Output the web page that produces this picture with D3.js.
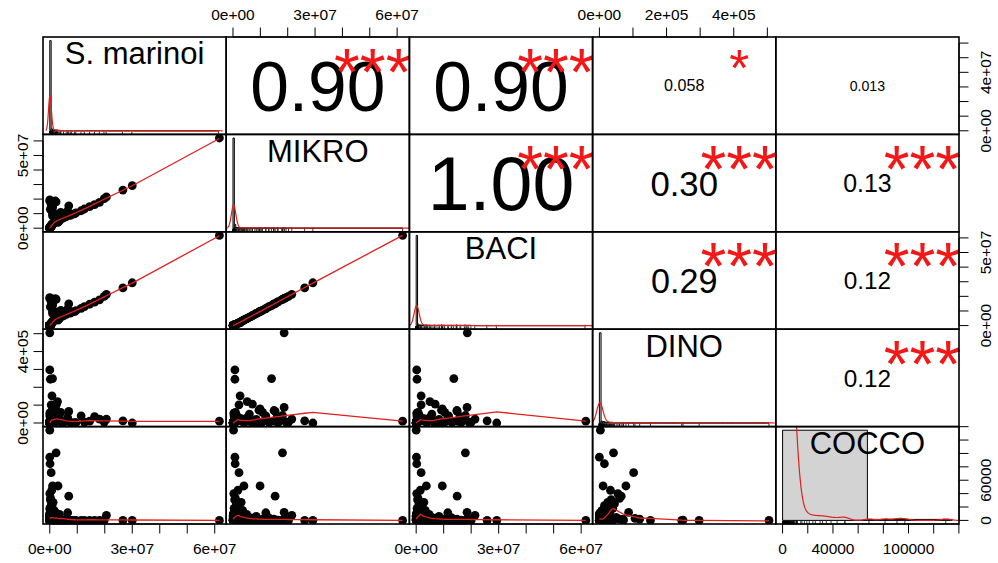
<!DOCTYPE html>
<html><head><meta charset="utf-8">
<script src="https://cdn.jsdelivr.net/npm/d3@7"></script>
<style>html,body{margin:0;padding:0;background:#fff;} svg{display:block;font-family:"Liberation Sans",Arial,Helvetica,sans-serif;}</style>
</head><body><svg id="chart" width="998" height="563"></svg>
<script>
// ---------------- data ----------------
const variables = ["S. marinoi", "MIKRO", "BACI", "DINO", "COCCO"];
const smarinoi = [6.17e7,2.66e7,3.00e7,0,0,0.02e7,0.10e7,0.08e7,0.23e7,0,0.01e7,0.05e7,0.30e7,0.10e7,0.69e7,0.65e7,2.06e7,0.40e7,0.20e7,1.14e7,1.63e7,1.81e7,1.26e7,1.45e7,0.90e7,0.25e7,0,0.05e7,0.02e7,0.10e7,1.98e7,0.01e7,0.02e7,0,0.03e7,0.05e7,0,0.08e7,0.12e7,0.02e7,0.15e7,0.20e7,0.25e7,0.30e7,0.35e7,0.40e7,0.50e7,0.60e7,0.75e7,0,0,0.01e7,0,0.02e7,0.01e7,0.04e7,0.06e7,0,0.03e7,0.07e7,0.09e7,0.11e7,0,0.01e7,0,0.02e7,0.14e7,0.18e7,0.01e7,0.03e7,0,0.01e7,0.80e7,0.95e7,0.22e7,0.10e7,0.28e7,0,
  0,0,0.01e7,0,0.02e7,0,0.01e7,0,0,0.03e7,0,0.01e7,0,0.02e7,0,0,0.01e7,0,0.04e7,0,0.01e7,0,0,0.02e7,0,0.01e7,0,0,0.03e7,0,0,0.01e7,0,0,0.02e7,0,0.01e7,0,0,0.01e7,0,0.02e7];
const mikro = [6.20e7,2.62e7,2.92e7,1.87e7,0.07e7,0.07e7,1.41e7,0.26e7,1.81e7,0.07e7,0.08e7,0.22e7,0.40e7,0.99e7,1.54e7,1.20e7,2.15e7,1.08e7,1.87e7,1.20e7,1.62e7,1.78e7,1.32e7,1.48e7,0.98e7,0.71e7,1.94e7,1.65e7,1.30e7,0.85e7,2.03e7,0.03e7,0.05e7,0.02e7,0.10e7,0.15e7,0.04e7,0.20e7,0.30e7,0.06e7,0.35e7,0.45e7,0.55e7,0.60e7,0.50e7,0.65e7,0.70e7,0.80e7,0.88e7,0.01e7,0,0.02e7,0.01e7,0.04e7,0.01e7,0.08e7,0.12e7,0.03e7,0.09e7,0.18e7,0.25e7,0.32e7,0.02e7,0.03e7,0.01e7,0.05e7,0.38e7,0.42e7,0.06e7,0.11e7,0.02e7,0.04e7,0.95e7,1.05e7,0.95e7,1.50e7,0.52e7,0.02e7,
  0.01e7,0.02e7,0.03e7,0.01e7,0.05e7,0.02e7,0.03e7,0.01e7,0.02e7,0.06e7,0.01e7,0.03e7,0.02e7,0.04e7,0.01e7,0.02e7,0.03e7,0.01e7,0.07e7,0.02e7,0.03e7,0.01e7,0.02e7,0.05e7,0.01e7,0.03e7,0.02e7,0.01e7,0.06e7,0.02e7,0.01e7,0.03e7,0.02e7,0.01e7,0.04e7,0.02e7,0.03e7,0.01e7,0.02e7,0.03e7,0.01e7,0.04e7];
const baci = [6.17e7,2.58e7,2.93e7,1.86e7,0.02e7,0.03e7,1.37e7,0.18e7,1.79e7,0.01e7,0.02e7,0.18e7,0.37e7,0.95e7,1.49e7,1.15e7,2.14e7,1.04e7,1.85e7,1.18e7,1.60e7,1.76e7,1.30e7,1.46e7,0.96e7,0.69e7,1.92e7,1.63e7,1.28e7,0.83e7,2.00e7,0.02e7,0.04e7,0.01e7,0.08e7,0.13e7,0.03e7,0.18e7,0.28e7,0.05e7,0.33e7,0.42e7,0.52e7,0.57e7,0.47e7,0.62e7,0.67e7,0.76e7,0.85e7,0,0,0.01e7,0.01e7,0.03e7,0.01e7,0.07e7,0.10e7,0.02e7,0.07e7,0.15e7,0.22e7,0.30e7,0.01e7,0.02e7,0.01e7,0.04e7,0.36e7,0.40e7,0.05e7,0.09e7,0.01e7,0.03e7,0.93e7,1.02e7,0.92e7,1.48e7,0.50e7,0,
  0.01e7,0.01e7,0.02e7,0,0.04e7,0.01e7,0.02e7,0.01e7,0.01e7,0.05e7,0,0.02e7,0.01e7,0.03e7,0.01e7,0.01e7,0.02e7,0,0.06e7,0.01e7,0.02e7,0.01e7,0.01e7,0.04e7,0,0.02e7,0.01e7,0.01e7,0.05e7,0.01e7,0,0.02e7,0.01e7,0,0.03e7,0.01e7,0.02e7,0.01e7,0.01e7,0.02e7,0,0.03e7];
const dino = [0.10e5,0.12e5,0,5.05e5,2.97e5,2.45e5,2.49e5,1.52e5,0.42e5,0,0.15e5,1.02e5,0.11e5,0.79e5,0.65e5,0.30e5,0.22e5,0.59e5,0.87e5,0.40e5,0.36e5,0.22e5,0.05e5,0.10e5,0.02e5,1.06e5,0.05e5,0.02e5,0.08e5,0.20e5,0.05e5,0.02e5,0.05e5,0.10e5,0.20e5,0.30e5,0.40e5,0.15e5,0.25e5,0.35e5,0.08e5,0.12e5,0.18e5,0.50e5,0.28e5,0.06e5,0.03e5,0.12e5,0.04e5,0.01e5,0,0,0.03e5,0.01e5,0.02e5,0.07e5,0.45e5,0.55e5,0.60e5,0.33e5,0.22e5,0.14e5,0,0.01e5,0.02e5,0,0.09e5,0.04e5,0.16e5,0.26e5,0.01e5,0.02e5,0.01e5,0.02e5,0.72e5,0.70e5,1.20e5,0.03e5,
  0,0.01e5,0.02e5,0,0.03e5,0.01e5,0,0.02e5,0.01e5,0.04e5,0,0.01e5,0.02e5,0,0.03e5,0.01e5,0,0.02e5,0.05e5,0,0.01e5,0.02e5,0,0.03e5,0.01e5,0,0.02e5,0.01e5,0.04e5,0,0.01e5,0,0.02e5,0.01e5,0.03e5,0,0.01e5,0.02e5,0,0.01e5,0.02e5,0.03e5];
const cocco = [0,0,0,0,0,0,500,0,100900,94400,84600,71300,51400,51400,36100,11400,7500,2000,12000,0,0,0,0,0,0,3000,2000,500,4000,6000,0,1000,3000,5000,8000,12000,18000,22000,27000,31000,15000,2500,500,4500,9000,1000,0,2000,0,0,0,300,800,0,0,1500,25000,40000,33000,45000,6500,3500,0,200,0,0,0,1200,16000,20000,0,0,0,0,500,2000,2000,134700,
  0,1500,3500,6000,800,2500,9000,400,4500,12000,1200,5000,7500,300,2000,10000,3000,600,5500,8000,1800,0,4000,11000,2200,700,6500,3300,900,9500,2600,0,4800,7000,1400,3800,0,8500,2900,1100,6200,500];
// number of samples sharing each row of values (the near-zero samples overlap at the origin)
const sampleCount = [1,1,1,1,1,1,1,1,1,1,1,1,1,1,1,1,1,1,1,1,1,1,1,1,1,1,1,1,1,1,1,1,1,1,1,1,1,1,1,1,1,1,1,1,1,1,1,1,1,15,15,15,15,15,15,1,1,1,1,1,1,1,15,15,15,15,1,1,1,1,15,15,1,1,1,1,1,1,
  6,6,4,6,3,6,4,6,6,3,6,5,6,4,6,6,5,6,2,6,5,6,6,4,6,5,6,6,3,6,6,5,6,6,4,6,5,6,6,5,6,4];

// upper panels: (row, column) pairs, printed coefficients and significance stars
const corrPairs  = [[0,1],[0,2],[0,3],[0,4],[1,2],[1,3],[1,4],[2,3],[2,4],[3,4]];
const corrValues = [0.90, 0.90, 0.058, 0.013, 1.00, 0.30, 0.13, 0.29, 0.12, 0.12];
const corrLabels = ["0.90","0.90","0.058","0.013","1.00","0.30","0.13","0.29","0.12","0.12"];
const corrStars  = ["***","***","*","","***","***","***","***","***","***"];

// axes
const tickStep   = [1e7, 1e7, 1e7, 1e5, 2e4];
const xLabelVals = [[0,3e7,6e7],[0,3e7,6e7],[0,3e7,6e7],[0,2e5,4e5],[0,4e4,1e5]];
const yLabelVals = [[0,4e7],[0,5e7],[0,5e7],[0,4e5],[0,6e4]];
const sciFormat  = [true, true, true, true, false];
// diagonal histograms / density estimates
const histBinWidth     = [5e5, 5e5, 5e5, 5e3, 7e4];
const densityBandwidth = [5e5, 8e5, 9e5, 9e3, 4000];

// ---------------- layout ----------------
const data = [smarinoi, mikro, baci, dino, cocco];
const N = smarinoi.length;
const NW = d3.sum(sampleCount);
const svg = d3.select("#chart");
svg.append("rect").attr("width", 998).attr("height", 563).attr("fill", "#fff");
const X0 = 43, Y0 = 37, PW = 183.2, PH = 97.4;
const STAR_COL = "#f21818", LINE_COL = "#e0201c";

const ext = data.map(v => { const [a, b] = d3.extent(v); const d = b - a; return [a - 0.04 * d, b + 0.04 * d]; });
const xS = data.map((v, j) => d3.scaleLinear().domain(ext[j]).range([X0 + j * PW, X0 + (j + 1) * PW]));
const yS = data.map((v, i) => d3.scaleLinear().domain(ext[i]).range([Y0 + (i + 1) * PH, Y0 + i * PH]));

const defs = svg.append("defs");
for (let i = 0; i < 5; i++) for (let j = 0; j < 5; j++) {
  defs.append("clipPath").attr("id", `c${i}${j}`).append("rect")
    .attr("x", X0 + j * PW).attr("y", Y0 + i * PH).attr("width", PW).attr("height", PH);
}

const meas = svg.append("text").attr("font-size", 100).attr("x", -1000).attr("y", -1000);
function textLen(s) { meas.text(s); return meas.node().getComputedTextLength(); }

// ---------------- lowess (port of R clowess) ----------------
function lowest(x, y, n, xs, nleft, nright, w, userw, rw) {
  const range = x[n - 1] - x[0];
  const h = Math.max(xs - x[nleft], x[nright] - xs);
  const h9 = 0.999 * h, h1 = 0.001 * h;
  let a = 0, j = nleft;
  while (j < n) {
    w[j] = 0;
    const r = Math.abs(x[j] - xs);
    if (r <= h9) {
      if (r <= h1) w[j] = 1; else w[j] = Math.pow(1 - Math.pow(r / h, 3), 3);
      if (userw) w[j] *= rw[j];
      a += w[j];
    } else if (x[j] > xs) break;
    j++;
  }
  const nrt = j - 1;
  if (a <= 0) return null;
  for (j = nleft; j <= nrt; j++) w[j] /= a;
  if (h > 0) {
    a = 0;
    for (j = nleft; j <= nrt; j++) a += w[j] * x[j];
    let b = xs - a, c = 0;
    for (j = nleft; j <= nrt; j++) c += w[j] * (x[j] - a) * (x[j] - a);
    if (Math.sqrt(c) > 0.001 * range) {
      b /= c;
      for (j = nleft; j <= nrt; j++) w[j] *= (b * (x[j] - a) + 1);
    }
  }
  let ys = 0;
  for (j = nleft; j <= nrt; j++) ys += w[j] * y[j];
  return ys;
}
function lowess(xIn, yIn, f = 2 / 3, nsteps = 3) {
  const idx = d3.range(xIn.length).sort((a, b) => (xIn[a] - xIn[b]) || (a - b));
  const x = idx.map(i => xIn[i]), y = idx.map(i => yIn[i]);
  const n = x.length;
  const delta = 0.01 * (x[n - 1] - x[0]);
  const ys = new Array(n).fill(0), rw = new Array(n).fill(0), res = new Array(n).fill(0);
  const ns = Math.max(2, Math.min(n, Math.floor(f * n + 1e-7)));
  let iter = 1;
  while (iter <= nsteps + 1) {
    let nleft = 0, nright = ns - 1, last = -1, i = 0;
    for (;;) {
      if (nright < n - 1) {
        const d1 = x[i] - x[nleft], d2 = x[nright + 1] - x[i];
        if (d1 > d2) { nleft++; nright++; continue; }
      }
      const v = lowest(x, y, n, x[i], nleft, nright, res, iter > 1, rw);
      ys[i] = (v === null) ? y[i] : v;
      if (last < i - 1) {
        const denom = x[i] - x[last];
        for (let j = last + 1; j < i; j++) {
          const alpha = (x[j] - x[last]) / denom;
          ys[j] = alpha * ys[i] + (1 - alpha) * ys[last];
        }
      }
      last = i;
      const cut = x[last] + delta;
      for (i = last + 1; i < n; i++) {
        if (x[i] > cut) break;
        if (x[i] === x[last]) { ys[i] = ys[last]; last = i; }
      }
      i = Math.max(last + 1, i - 1);
      if (last >= n - 1) break;
    }
    for (let k = 0; k < n; k++) res[k] = y[k] - ys[k];
    let sc = 0; for (let k = 0; k < n; k++) sc += Math.abs(res[k]); sc /= n;
    if (iter > nsteps) break;
    for (let k = 0; k < n; k++) rw[k] = Math.abs(res[k]);
    const sorted = rw.slice().sort((a, b) => a - b);
    const m1 = Math.floor(n / 2);
    let cmad;
    if (n % 2 === 0) { const m2 = n - m1 - 1; cmad = 3 * (sorted[m1] + sorted[m2]); }
    else cmad = 6 * sorted[m1];
    if (cmad < 1e-7 * sc) break;
    const c9 = 0.999 * cmad, c1 = 0.001 * cmad;
    for (let k = 0; k < n; k++) {
      const r = Math.abs(res[k]);
      rw[k] = r <= c1 ? 1 : (r <= c9 ? Math.pow(1 - Math.pow(r / cmad, 2), 2) : 0);
    }
    iter++;
  }
  return x.map((xv, k) => [xv, ys[k]]);
}

// ---------------- weighted gaussian kernel density ----------------
function kde(v, bw) {
  const [mn, mx] = d3.extent(v);
  const from = mn - 3 * bw, to = mx + 3 * bw;
  return d3.range(512).map(k => {
    const xv = from + k * (to - from) / 511;
    let s = 0;
    v.forEach((xi, q) => { s += sampleCount[q] * Math.exp(-0.5 * ((xv - xi) / bw) ** 2); });
    return [xv, s / (NW * bw * Math.sqrt(2 * Math.PI))];
  });
}

// ---------------- lower panels ----------------
for (let i = 1; i < 5; i++) for (let j = 0; j < i; j++) {
  const g = svg.append("g").attr("clip-path", `url(#c${i}${j})`);
  const xv = data[j], yv = data[i];
  g.selectAll("circle").data(d3.range(N)).join("circle")
    .attr("cx", k => xS[j](xv[k])).attr("cy", k => yS[i](yv[k]))
    .attr("r", 4.4).attr("fill", "#050505");
  const lw = lowess(xv, yv);
  g.append("path").attr("d", d3.line().x(d => xS[j](d[0])).y(d => yS[i](d[1]))(lw))
    .attr("fill", "none").attr("stroke", LINE_COL).attr("stroke-width", 1.3);
}

// ---------------- diagonal panels ----------------
for (let k = 0; k < 5; k++) {
  const v = data[k];
  const px0 = X0 + k * PW, py0 = Y0 + k * PH;
  const w = histBinWidth[k];
  const nb = Math.max(1, Math.ceil(d3.max(v) / w - 1e-9));
  const breaks = d3.range(nb + 1).map(b => b * w);
  const counts = new Array(nb).fill(0);
  v.forEach((val, q) => { let b = Math.ceil(val / w - 1e-9) - 1; if (b < 0) b = 0; if (b >= nb) b = nb - 1; counts[b] += sampleCount[q]; });
  const dens = counts.map(c => c / (NW * w));
  const lo = breaks[0], hi = breaks[nb];
  const hx = d3.scaleLinear().domain([lo - 0.04 * (hi - lo), hi + 0.04 * (hi - lo)]).range([px0, px0 + PW]);
  const dmax = d3.max(dens);
  const hy = d3.scaleLinear().domain([-0.04 * dmax, 1.04 * dmax]).range([py0 + PH, py0]);
  const g = svg.append("g").attr("clip-path", `url(#c${k}${k})`);
  g.selectAll("path.bar").data(dens).join("path").attr("class", "bar")
    .attr("d", (d, b) => `M${hx(breaks[b])},${hy(0)}H${hx(breaks[b + 1])}V${hy(d)}H${hx(breaks[b])}Z`)
    .attr("fill", "#d3d3d3").attr("stroke", "#000").attr("stroke-width", 1);
  g.append("path").attr("d", d3.line().x(d => hx(d[0])).y(d => hy(d[1]))(kde(v, densityBandwidth[k])))
    .attr("fill", "none").attr("stroke", LINE_COL).attr("stroke-width", 1.2);
  g.selectAll("line.rug").data(v).join("line").attr("class", "rug")
    .attr("x1", d => hx(d)).attr("x2", d => hx(d))
    .attr("y1", py0 + PH).attr("y2", py0 + PH - 0.03 * PH)
    .attr("stroke", "#000").attr("stroke-width", 0.8);
  const fs = 31;
  svg.append("text").attr("x", px0 + PW / 2).attr("y", py0 + (1 - 0.833) * PH + 0.358 * fs)
    .attr("text-anchor", "middle").attr("font-size", fs).attr("fill", "#000").text(variables[k]);
}

// ---------------- upper panels ----------------
corrPairs.forEach(([i, j], q) => {
  const px0 = X0 + j * PW, py0 = Y0 + i * PH;
  const txt = corrLabels[q];
  const base = 100 * (0.8 * PW) / textLen(txt);
  const fsNum = base * (Math.abs(corrValues[q]) + 0.3) / 1.3;
  svg.append("text").attr("x", px0 + PW / 2).attr("y", py0 + PH / 2 + 0.358 * fsNum)
    .attr("text-anchor", "middle").attr("font-size", fsNum).attr("fill", "#000").text(txt);
  if (corrStars[q]) {
    const fsStar = base * 0.88;
    svg.append("text").attr("x", px0 + 0.8 * PW).attr("y", py0 + 0.2 * PH + 0.575 * fsStar)
      .attr("text-anchor", "middle").attr("font-size", fsStar).attr("fill", STAR_COL).text(corrStars[q]);
  }
});
meas.remove();

// ---------------- axes ----------------
function fmt(v, sci) {
  if (!sci) return String(v);
  if (v === 0) return "0e+00";
  const e = Math.floor(Math.log10(v) + 1e-9);
  const m = Math.round(v / Math.pow(10, e));
  return `${m}e+${String(e).padStart(2, "0")}`;
}
const TICK = 9.5, AFS = 15.5;
const ax = svg.append("g").attr("stroke", "#000").attr("stroke-width", 1);
for (let k = 0; k < 5; k++) {
  const ticks = d3.range(0, ext[k][1] + 1, tickStep[k]).filter(t => t >= ext[k][0] && t <= ext[k][1]);
  const top = k % 2 === 1;
  const yEdge = top ? Y0 : Y0 + 5 * PH, dir = top ? -1 : 1;
  ax.append("line").attr("x1", xS[k](ticks[0])).attr("x2", xS[k](ticks[ticks.length - 1])).attr("y1", yEdge).attr("y2", yEdge);
  ticks.forEach(t => ax.append("line").attr("x1", xS[k](t)).attr("x2", xS[k](t)).attr("y1", yEdge).attr("y2", yEdge + dir * TICK));
  xLabelVals[k].forEach(t => {
    const cy = top ? 14 : 548;
    svg.append("text").attr("x", xS[k](t)).attr("y", cy + 0.358 * AFS).attr("text-anchor", "middle")
      .attr("font-size", AFS).attr("fill", "#000").text(fmt(t, sciFormat[k]));
  });
  const right = k % 2 === 0;
  const xEdge = right ? X0 + 5 * PW : X0, dx = right ? 1 : -1;
  ax.append("line").attr("y1", yS[k](ticks[0])).attr("y2", yS[k](ticks[ticks.length - 1])).attr("x1", xEdge).attr("x2", xEdge);
  ticks.forEach(t => ax.append("line").attr("y1", yS[k](t)).attr("y2", yS[k](t)).attr("x1", xEdge).attr("x2", xEdge + dx * TICK));
  yLabelVals[k].forEach(t => {
    const cx = right ? 985 : 22;
    svg.append("text").attr("transform", `translate(${cx},${yS[k](t)}) rotate(-90)`)
      .attr("x", 0).attr("y", 0.358 * AFS).attr("text-anchor", "middle")
      .attr("font-size", AFS).attr("fill", "#000").text(fmt(t, sciFormat[k]));
  });
}

// ---------------- panel boxes ----------------
for (let i = 0; i < 5; i++) for (let j = 0; j < 5; j++) {
  svg.append("rect").attr("x", X0 + j * PW).attr("y", Y0 + i * PH).attr("width", PW).attr("height", PH)
    .attr("fill", "none").attr("stroke", "#000").attr("stroke-width", 1.6);
}
</script>
</body></html>
